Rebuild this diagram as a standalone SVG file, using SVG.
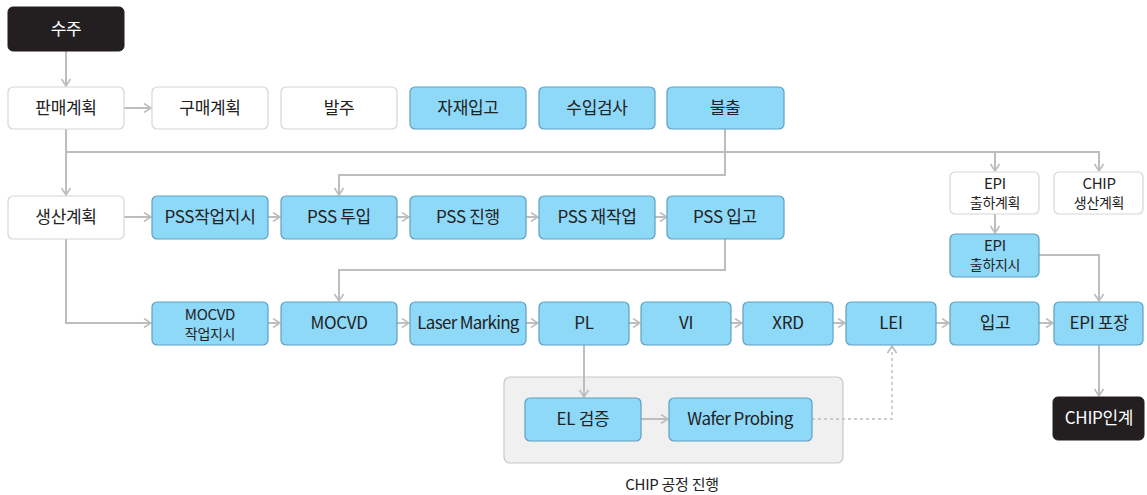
<svg xmlns="http://www.w3.org/2000/svg" width="1147" height="495" viewBox="0 0 1147 495">
<style>
text{font-family:"Noto Sans CJK KR","Noto Sans",sans-serif;fill:#222;text-anchor:middle;font-size:17px;letter-spacing:-0.3px}
.w rect{fill:#fff;stroke:#d6d6d6;stroke-width:1.2}
.b rect{fill:#8ed8f8;stroke:#5f9fbf;stroke-width:1.2}
.k rect{fill:#231f20;stroke:#231f20}
.k text{fill:#fff}
.t{font-size:15px}
.s{font-size:14px}
.c path{fill:none;stroke:#bdbdbd;stroke-width:2}
.c .d{stroke-dasharray:3 3;stroke-width:1.4}
</style>
<defs>
<marker id="a" viewBox="0 0 10 10" refX="9" refY="5" markerWidth="10" markerHeight="10" markerUnits="userSpaceOnUse" orient="auto">
<path d="M2,0.5 L9,5 L2,9.5" fill="none" stroke="#bdbdbd" stroke-width="1.6"/>
</marker>
</defs>
<g id="group-chip">
<rect x="504" y="377" width="339" height="86" rx="6" fill="#f0f0f0" stroke="#c8c8c8" stroke-width="1.2"/>
<text x="672" y="490" style="font-size:15px">CHIP 공정 진행</text>
</g>
<g class="c" id="connectors">
<path d="M66,51 V86" marker-end="url(#a)"/>
<path d="M124,108 H151" marker-end="url(#a)"/>
<path d="M66,129 V195" marker-end="url(#a)"/>
<path d="M66,152 H1099 V171" marker-end="url(#a)"/>
<path d="M995,152 V171" marker-end="url(#a)"/>
<path d="M725,129 V175 H339 V195" marker-end="url(#a)"/>
<path d="M124,217 H151" marker-end="url(#a)"/>
<path d="M268,217 H280" marker-end="url(#a)"/>
<path d="M397,217 H409" marker-end="url(#a)"/>
<path d="M526,217 H538" marker-end="url(#a)"/>
<path d="M655,217 H667" marker-end="url(#a)"/>
<path d="M725,239 V270 H339 V301" marker-end="url(#a)"/>
<path d="M66,239 V323 H151" marker-end="url(#a)"/>
<path d="M268,323 H280" marker-end="url(#a)"/>
<path d="M397,323 H409" marker-end="url(#a)"/>
<path d="M526,323 H538" marker-end="url(#a)"/>
<path d="M629,323 H640" marker-end="url(#a)"/>
<path d="M731,323 H742" marker-end="url(#a)"/>
<path d="M833,323 H845" marker-end="url(#a)"/>
<path d="M936,323 H949" marker-end="url(#a)"/>
<path d="M1039,323 H1053" marker-end="url(#a)"/>
<path d="M584,345 V397" marker-end="url(#a)"/>
<path d="M641,419 H668" marker-end="url(#a)"/>
<path class="d" d="M812,419 H892 V346" marker-end="url(#a)"/>
<path d="M995,214 V233" marker-end="url(#a)"/>
<path d="M1039,255 H1099 V301" marker-end="url(#a)"/>
<path d="M1099,345 V396" marker-end="url(#a)"/>
</g>
<g id="n-suju" class="k"><rect x="8" y="7" width="116" height="44" rx="5"/><text x="66" y="35">수주</text></g>
<g id="n-panmae" class="w"><rect x="8" y="87" width="116" height="42" rx="5"/><text x="66" y="114">판매계획</text></g>
<g id="n-gumae" class="w"><rect x="152" y="87" width="116" height="42" rx="5"/><text x="210" y="114">구매계획</text></g>
<g id="n-balju" class="w"><rect x="281" y="87" width="116" height="42" rx="5"/><text x="339" y="114">발주</text></g>
<g id="n-jajae" class="b"><rect x="410" y="87" width="116" height="42" rx="5"/><text x="468" y="114">자재입고</text></g>
<g id="n-suip" class="b"><rect x="539" y="87" width="116" height="42" rx="5"/><text x="597" y="114">수입검사</text></g>
<g id="n-bulchul" class="b"><rect x="667" y="87" width="117" height="42" rx="5"/><text x="725" y="114">불출</text></g>
<g id="n-saengsan" class="w"><rect x="8" y="196" width="116" height="43" rx="5"/><text x="66" y="223">생산계획</text></g>
<g id="n-pssjisi" class="b"><rect x="152" y="196" width="116" height="43" rx="5"/><text x="210" y="223">PSS작업지시</text></g>
<g id="n-psstuip" class="b"><rect x="281" y="196" width="116" height="43" rx="5"/><text x="339" y="223">PSS 투입</text></g>
<g id="n-pssjin" class="b"><rect x="410" y="196" width="116" height="43" rx="5"/><text x="468" y="223">PSS 진행</text></g>
<g id="n-pssjae" class="b"><rect x="539" y="196" width="116" height="43" rx="5"/><text x="597" y="223">PSS 재작업</text></g>
<g id="n-pssipgo" class="b"><rect x="667" y="196" width="117" height="43" rx="5"/><text x="725" y="223">PSS 입고</text></g>
<g id="n-epichulha" class="w"><rect x="950" y="172" width="89" height="42" rx="5"/><text><tspan class="t" x="995" y="189">EPI</tspan><tspan class="s" x="995" y="208">출하계획</tspan></text></g>
<g id="n-chipsaeng" class="w"><rect x="1054" y="172" width="89" height="42" rx="5"/><text><tspan class="t" x="1099" y="189">CHIP</tspan><tspan class="s" x="1099" y="208">생산계획</tspan></text></g>
<g id="n-epijisi" class="b"><rect x="950" y="234" width="89" height="43" rx="5"/><text><tspan class="t" x="995" y="251">EPI</tspan><tspan class="s" x="995" y="270">출하지시</tspan></text></g>
<g id="n-mocvdjisi" class="b"><rect x="152" y="302" width="116" height="43" rx="5"/><text><tspan class="t" x="210" y="320">MOCVD</tspan><tspan class="s" x="210" y="339">작업지시</tspan></text></g>
<g id="n-mocvd" class="b"><rect x="281" y="302" width="116" height="43" rx="5"/><text x="339" y="329">MOCVD</text></g>
<g id="n-laser" class="b"><rect x="410" y="302" width="116" height="43" rx="5"/><text x="468" y="329" style="letter-spacing:-0.7px">Laser Marking</text></g>
<g id="n-pl" class="b"><rect x="539" y="302" width="90" height="43" rx="5"/><text x="584" y="329">PL</text></g>
<g id="n-vi" class="b"><rect x="641" y="302" width="90" height="43" rx="5"/><text x="686" y="329">VI</text></g>
<g id="n-xrd" class="b"><rect x="743" y="302" width="90" height="43" rx="5"/><text x="788" y="329">XRD</text></g>
<g id="n-lei" class="b"><rect x="846" y="302" width="90" height="43" rx="5"/><text x="891" y="329">LEI</text></g>
<g id="n-ipgo" class="b"><rect x="950" y="302" width="89" height="43" rx="5"/><text x="995" y="329">입고</text></g>
<g id="n-epipojang" class="b"><rect x="1054" y="302" width="89" height="43" rx="5"/><text x="1099" y="329">EPI 포장</text></g>
<g id="n-chipingye" class="k"><rect x="1053" y="397" width="91" height="43" rx="5"/><text x="1099" y="424">CHIP인계</text></g>
<g id="n-el" class="b"><rect x="525" y="398" width="116" height="43" rx="5"/><text x="583" y="425">EL 검증</text></g>
<g id="n-wafer" class="b"><rect x="669" y="398" width="143" height="43" rx="5"/><text x="740" y="425" style="letter-spacing:-0.5px">Wafer Probing</text></g>
</svg>
